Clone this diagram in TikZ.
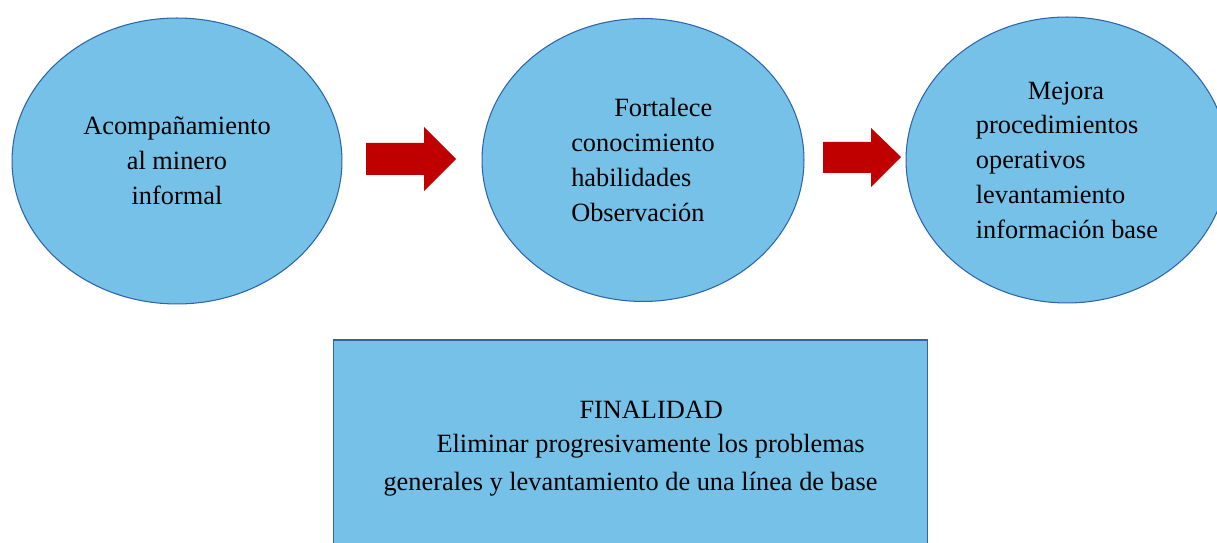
\documentclass[tikz,border=0pt]{standalone}
\usepackage{fontspec}
\setmainfont{Liberation Serif}
\usetikzlibrary{shapes.geometric}
\definecolor{bubblefill}{RGB}{117,193,232}
\definecolor{bubbleline}{RGB}{46,100,170}
\definecolor{arrowred}{RGB}{192,0,0}
\begin{document}
\begin{tikzpicture}[x=0.02cm,y=-0.02cm,
        bubble/.style={ellipse,draw=bubbleline,fill=bubblefill,line width=0.6pt,inner sep=0pt,font=\rmfamily\fontsize{15}{19.8}\selectfont},
        goalbox/.style={rectangle,draw=bubbleline,fill=bubblefill,line width=0.6pt,minimum width=11.9cm,minimum height=4.36cm,align=left,font=\rmfamily\fontsize{15}{22}\selectfont}]
        \clip (0,0) rectangle (1217,543);
        \node [bubble,minimum width=6.6cm,minimum height=5.72cm,align=center] (acomp) at (177,161) {Acompañamiento\\al minero\\informal};
        \node [bubble,minimum width=6.44cm,minimum height=5.66cm,align=left] (fortal) at (643,160) {\hspace*{0.86cm}Fortalece\\conocimiento\\habilidades\\Observación};
        \node [bubble,minimum width=6.44cm,minimum height=5.72cm,align=left] (mejora) at (1067,160) {\hspace*{1.04cm}Mejora\\procedimientos\\operativos\\levantamiento\\información base};
        \fill [arrowred] (366,143) -- (424,143) -- (424,127) -- (456,159) -- (424,191) -- (424,175) -- (366,175) -- cycle;
        \fill [arrowred] (823,142) -- (871,142) -- (871,128) -- (901,157) -- (871,187) -- (871,173) -- (823,173) -- cycle;
        \node [goalbox] (final) at (630.5,449) {\hspace*{3.92cm}FINALIDAD\\[-3pt]\hspace*{1.06cm}Eliminar progresivamente los problemas\\generales y levantamiento de una línea de base};
    \end{tikzpicture}
\end{document}
